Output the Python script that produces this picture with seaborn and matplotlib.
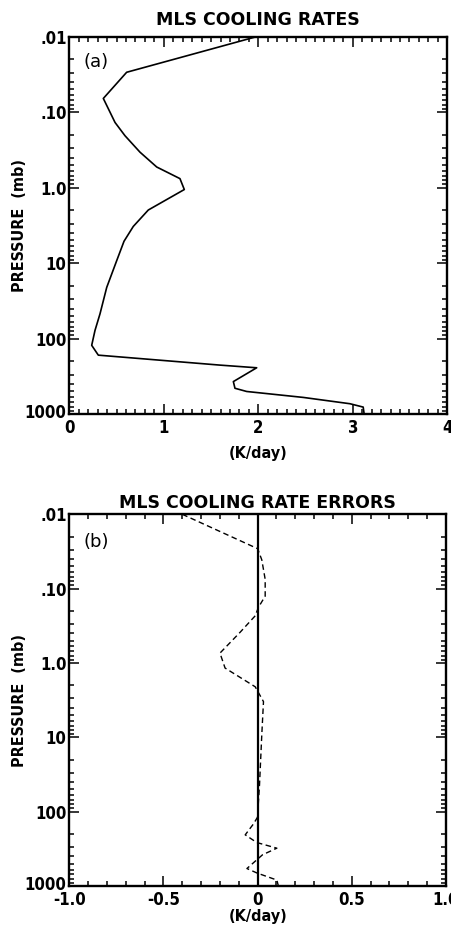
import numpy as np
import pandas as pd
import matplotlib
matplotlib.use("Agg")
import matplotlib.pyplot as plt
import matplotlib.font_manager as fm
import matplotlib.transforms as mtransforms
from matplotlib.ticker import FixedLocator, FixedFormatter, LogLocator, MultipleLocator, NullFormatter
import seaborn as sns

# ---- data ----
press_a = [0.0100, 0.0296, 0.0658, 0.137, 0.205, 0.339, 0.533, 0.760, 1.06, 1.98,
           3.27, 5.14, 9.4, 21.0, 47.0, 78.0, 123.0, 166.0, 225.0, 244.0,
           372.0, 456.0, 503.0, 603.0, 731.0, 810.0, 1000.0]
rate_a = [1.98, 0.607, 0.360, 0.484, 0.589, 0.748, 0.925, 1.171, 1.217, 0.836,
          0.677, 0.579, 0.500, 0.396, 0.325, 0.272, 0.237, 0.307, 1.595, 1.983,
          1.736, 1.753, 1.877, 2.476, 2.970, 3.110, 3.120]

press_b = [0.0100, 0.029, 0.041, 0.075, 0.126, 0.179, 0.232, 0.386, 0.736, 1.17,
           2.09, 3.31, 9.2, 42.9, 119.0, 146.0, 205.0, 260.0, 310.0, 380.0,
           582.0, 668.0, 832.0, 1000.0]
err_dash = [-0.40, 0.000, 0.022, 0.040, 0.040, 0.004, -0.013, -0.093, -0.200, -0.173,
            -0.013, 0.031, 0.022, 0.010, -0.001, -0.022, -0.066, -0.005, 0.102, 0.026,
            -0.057, -0.004, 0.102, 0.110]
err_solid = [0.0] * len(press_b)

ytick_vals = [0.01, 0.1, 1.0, 10.0, 100.0, 1000.0]
ytick_labels = [".01", ".10", "1.0", "10", "100", "1000"]
xticks_a = [0, 1, 2, 3, 4]
xtick_labels_a = ["0", "1", "2", "3", "4"]
xticks_b = [-1.0, -0.5, 0.0, 0.5, 1.0]
xtick_labels_b = ["-1.0", "-0.5", "0", "0.5", "1.0"]

df_a = pd.DataFrame({"rate": rate_a, "p": press_a})
df_b = pd.DataFrame({"p": press_b, "dash": err_dash, "solid": err_solid})

# ---- style ----
sns.set_theme(style="ticks")
ttf = fm.fontManager.ttflist
names = {f.name for f in ttf}
if "Liberation Sans Narrow" in names:
    nfam, nstretch, nsize = "Liberation Sans Narrow", "normal", 12.5
elif any(f.name == "DejaVu Sans" and f.stretch == "condensed" for f in ttf):
    nfam, nstretch, nsize = "DejaVu Sans", "condensed", 12.0
else:
    nfam, nstretch, nsize = "DejaVu Sans", "normal", 10.5
plt.rcParams["font.family"] = [nfam, "DejaVu Sans"]
plt.rcParams["font.stretch"] = nstretch
for k in ["text.color", "axes.labelcolor", "xtick.color", "ytick.color", "axes.edgecolor"]:
    plt.rcParams[k] = "black"

fig = plt.figure(figsize=(4.52, 9.41), dpi=100)
ax1 = fig.add_axes([69.3 / 452, 1 - 414 / 941, (447.3 - 69.3) / 452, (414 - 36.7) / 941])
ax2 = fig.add_axes([69.3 / 452, 1 - 886 / 941, (446 - 69.3) / 452, (886 - 514.3) / 941])

sns.lineplot(data=df_a, x="rate", y="p", sort=False, estimator=None, color="black",
             linewidth=1.2, ax=ax1)
sns.lineplot(data=df_b, x="solid", y="p", sort=False, estimator=None, color="black",
             linewidth=1.6, ax=ax2)
sns.lineplot(data=df_b, x="dash", y="p", sort=False, estimator=None, color="black",
             linewidth=1.0, ax=ax2, dashes=False)
ax2.lines[-1].set_dashes((4, 2.5))


def style_axis(ax, xt, xtl, xlim, minor_step, title, tpad, tag, tag_y, xlab_y):
    ax.set_yscale("log")
    ax.set_ylim(1000, 0.01)
    ax.set_xlim(*xlim)
    ax.yaxis.set_major_locator(FixedLocator(ytick_vals))
    ax.yaxis.set_major_formatter(FixedFormatter(ytick_labels))
    ax.yaxis.set_minor_locator(LogLocator(base=10, subs=np.arange(2, 10)))
    ax.yaxis.set_minor_formatter(NullFormatter())
    ax.xaxis.set_major_locator(FixedLocator(xt))
    ax.xaxis.set_major_formatter(FixedFormatter(xtl))
    ax.xaxis.set_minor_locator(MultipleLocator(minor_step))
    ax.tick_params(which="both", direction="in", top=True, right=True, color="black",
                   width=1.1)
    ax.tick_params(which="major", length=7)
    ax.tick_params(which="minor", length=3.5)
    ax.tick_params(axis="x", which="major", pad=3.5, labelsize=nsize)
    ax.tick_params(axis="y", which="major", pad=2, labelsize=nsize)
    for lab in ax.get_xticklabels() + ax.get_yticklabels():
        lab.set_fontweight("bold")
        lab.set_fontstretch(nstretch)
    # lift the bottom "1000" label slightly so it clears the x tick labels
    for lab in ax.get_yticklabels():
        if lab.get_text() == "1000":
            lab.set_transform(lab.get_transform() +
                              mtransforms.ScaledTranslation(0, 2.5 / 72, fig.dpi_scale_trans))
    for s in ax.spines.values():
        s.set_linewidth(1.7)
        s.set_color("black")
    ax.set_title(title, fontsize=12.5, fontweight="bold", family="DejaVu Sans",
                 fontstretch="normal", pad=tpad)
    ax.set_xlabel("(K/day)", fontsize=nsize - 0.5, fontweight="bold", fontstretch=nstretch)
    ax.xaxis.set_label_coords(0.5, xlab_y)
    ax.set_ylabel("PRESSURE  (mb)", fontsize=nsize - 0.5, fontweight="bold",
                  fontstretch=nstretch)
    ax.yaxis.set_label_coords(-0.112, 0.5)
    ax.text(0.072, tag_y, tag, transform=ax.transAxes, fontsize=13, ha="center",
            va="center", family="DejaVu Sans", fontstretch="normal")
    ax.set_facecolor("white")


style_axis(ax1, xticks_a, xtick_labels_a, (0, 4), 0.1, "MLS COOLING RATES", 8.5,
           "(a)", 0.934, -0.085)
style_axis(ax2, xticks_b, xtick_labels_b, (-1, 1), 0.1, "MLS COOLING RATE ERRORS", 4.5,
           "(b)", 0.926, -0.062)

fig.savefig("out.png", dpi=100, facecolor="white")
